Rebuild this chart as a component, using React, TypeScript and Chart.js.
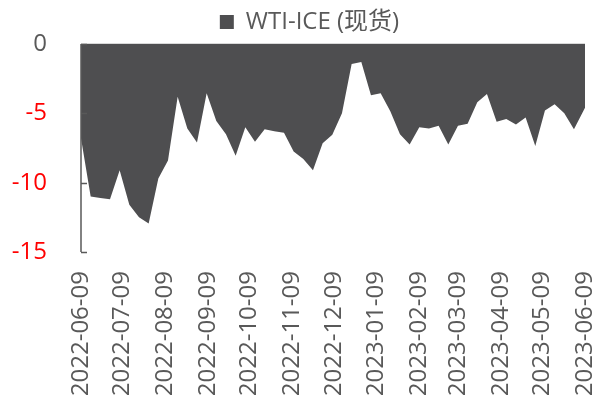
import React, { useEffect, useRef } from "react";
import { Chart, registerables } from "chart.js";

Chart.register(...registerables);

const SERIES_NAME = "WTI-ICE (现货)";

const DATES = [
  "2022-06-09", "2022-06-16", "2022-06-23", "2022-06-30",
  "2022-07-07", "2022-07-14", "2022-07-21", "2022-07-28",
  "2022-08-04", "2022-08-11", "2022-08-18", "2022-08-25",
  "2022-09-01", "2022-09-08", "2022-09-15", "2022-09-22", "2022-09-29",
  "2022-10-06", "2022-10-13", "2022-10-20", "2022-10-27",
  "2022-11-03", "2022-11-10", "2022-11-17", "2022-11-24",
  "2022-12-01", "2022-12-08", "2022-12-15", "2022-12-22", "2022-12-29",
  "2023-01-05", "2023-01-12", "2023-01-19", "2023-01-26",
  "2023-02-02", "2023-02-09", "2023-02-16", "2023-02-23",
  "2023-03-02", "2023-03-09", "2023-03-16", "2023-03-23", "2023-03-30",
  "2023-04-06", "2023-04-13", "2023-04-20", "2023-04-27",
  "2023-05-04", "2023-05-11", "2023-05-18", "2023-05-25",
  "2023-06-01", "2023-06-09",
];

const VALUES = [
  -6.8, -11.0, -11.1, -11.2,
  -9.1, -11.6, -12.5, -12.95,
  -9.7, -8.4, -3.8, -6.1,
  -7.1, -3.55, -5.55, -6.5, -8.05,
  -6.0, -7.05, -6.15, -6.3,
  -6.4, -7.75, -8.3, -9.1,
  -7.15, -6.55, -5.0, -1.45, -1.3,
  -3.7, -3.55, -4.85, -6.5,
  -7.25, -6.0, -6.1, -5.9,
  -7.25, -5.9, -5.75, -4.2, -3.6,
  -5.6, -5.4, -5.8, -5.3,
  -7.35, -4.8, -4.35, -5.0,
  -6.15, -4.6,
];

const X_TICK_LABELS = [
  "2022-06-09", "2022-07-09", "2022-08-09", "2022-09-09", "2022-10-09",
  "2022-11-09", "2022-12-09", "2023-01-09", "2023-02-09", "2023-03-09",
  "2023-04-09", "2023-05-09", "2023-06-09",
];

const Y_TICKS = [0, -5, -10, -15];

const START = Date.UTC(2022, 5, 9);
const dayOf = (s: string) => {
  const [y, m, d] = s.split("-").map(Number);
  return Math.round((Date.UTC(y, m - 1, d) - START) / 86400000);
};

const FONT = "'Open Sans', 'Noto Sans CJK SC', sans-serif";
const GRAY = "#595959";

const innerTicks = {
  id: "innerTicks",
  afterLayout(chart: any) {
    if (chart.legend) chart.legend.left += 34;
  },
  afterDatasetsDraw(chart: any) {
    const y = chart.scales.y;
    const left = chart.chartArea.left;
    const ctx = chart.ctx;
    ctx.save();
    ctx.strokeStyle = GRAY;
    ctx.lineWidth = 1.5;
    ctx.beginPath();
    ctx.moveTo(left, chart.chartArea.top);
    ctx.lineTo(left, chart.chartArea.bottom);
    for (const v of Y_TICKS) {
      const py = Math.round(y.getPixelForValue(v)) + 0.5;
      ctx.moveTo(left, py);
      ctx.lineTo(left + 6, py);
    }
    ctx.stroke();
    ctx.restore();
  },
};

export default function App() {
  const ref = useRef<HTMLCanvasElement | null>(null);

  useEffect(() => {
    if (!ref.current) return;
    const chart = new Chart(ref.current, {
      type: "line",
      data: {
        datasets: [
          {
            label: SERIES_NAME,
            data: DATES.map((d, i) => ({ x: dayOf(d), y: VALUES[i] })),
            fill: "origin",
            backgroundColor: "#4e4e50",
            borderColor: "#4e4e50",
            borderWidth: 0,
            pointRadius: 0,
            tension: 0,
          },
        ],
      },
      options: {
        animation: false,
        responsive: true,
        maintainAspectRatio: false,
        layout: { padding: { left: 0, right: 13, top: 0, bottom: 0 } },
        plugins: {
          tooltip: { enabled: false },
          legend: {
            position: "top",
            labels: {
              color: GRAY,
              font: { family: FONT, size: 24 },
              boxWidth: 14,
              boxHeight: 14,
              padding: 10,
            },
          },
        },
        scales: {
          x: {
            type: "linear",
            min: 0,
            max: dayOf(X_TICK_LABELS[X_TICK_LABELS.length - 1]),
            grid: { display: false, drawTicks: false },
            border: { display: false },
            afterBuildTicks: (scale: any) => {
              scale.ticks = X_TICK_LABELS.map((s) => ({ value: dayOf(s) }));
            },
            afterFit: (scale: any) => {
              scale.height = 149;
              scale.paddingLeft = 0;
              scale.paddingRight = 0;
            },
            ticks: {
              autoSkip: false,
              minRotation: 90,
              maxRotation: 90,
              padding: 19,
              color: GRAY,
              font: { family: FONT, size: 24 },
              callback: (v: any) => {
                const idx = X_TICK_LABELS.findIndex((s) => dayOf(s) === v);
                return idx >= 0 ? X_TICK_LABELS[idx] : "";
              },
            },
          },
          y: {
            min: -15,
            max: 0,
            z: 1,
            grid: {
              drawTicks: false,
              color: (ctx: any) => (ctx.tick && ctx.tick.value === 0 ? "#d9d9d9" : "rgba(0,0,0,0)"),
              lineWidth: 1.5,
            },
            border: { display: false },
            afterBuildTicks: (scale: any) => {
              scale.ticks = Y_TICKS.map((v) => ({ value: v }));
            },
            afterFit: (scale: any) => {
              scale.width = 81;
              scale.paddingTop = 0;
              scale.paddingBottom = 0;
            },
            ticks: {
              padding: 34,
              color: (ctx: any) => (ctx.tick && ctx.tick.value < 0 ? "#ff0000" : GRAY),
              font: { family: FONT, size: 24 },
            },
          },
        },
      },
      plugins: [innerTicks],
    });
    return () => chart.destroy();
  }, []);

  return (
    <div style={{ position: "fixed", left: 0, top: 0, width: 598, height: 401 }}>
      <canvas ref={ref} />
    </div>
  );
}
